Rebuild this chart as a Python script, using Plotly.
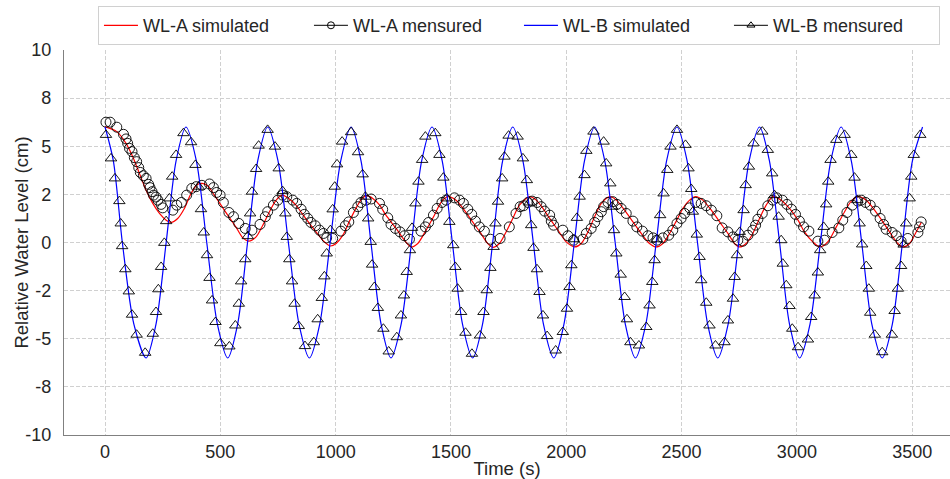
import plotly.graph_objects as go

# ---------------- data ----------------
wla_sim = [(0, 6.02), (51, 5.76), (91, 5.15), (120, 4.46), (149, 3.59), (178, 2.72), (207, 2.03),
           (236, 1.51), (265, 1.16), (286, 1.05), (315, 1.25), (344, 1.77), (373, 2.55), (402, 3.02),
           (421, 3.07), (445, 2.95), (474, 2.46), (503, 1.94), (532, 1.42), (568, 0.80), (597, 0.25),
           (623, 0.07), (655, 0.29), (684, 0.90), (713, 1.60), (742, 2.20), (768, 2.46), (792, 2.32),
           (828, 1.94), (857, 1.46), (886, 0.99), (915, 0.55), (944, 0.12), (976, -0.18), (1002, -0.05),
           (1031, 0.38), (1060, 1.11), (1089, 1.80), (1115, 2.29), (1135, 2.43), (1161, 2.29),
           (1190, 1.95), (1218, 1.42), (1262, 0.73), (1298, 0.12), (1327, -0.23), (1356, -0.05),
           (1392, 0.64), (1428, 1.42), (1457, 2.08), (1486, 2.38), (1522, 2.20), (1558, 1.68),
           (1594, 1.07), (1630, 0.47), (1659, -0.05), (1681, -0.25), (1710, -0.05), (1739, 0.55),
           (1768, 1.25), (1797, 1.94), (1841, 2.38), (1870, 2.20), (1899, 1.77), (1928, 1.25),
           (1964, 0.64), (2000, 0.03), (2036, -0.23), (2065, -0.05), (2094, 0.55), (2123, 1.34),
           (2152, 2.03), (2190, 2.38), (2217, 2.20), (2253, 1.68), (2289, 1.07), (2325, 0.47),
           (2361, -0.05), (2390, -0.23), (2419, -0.05), (2448, 0.47), (2477, 1.11), (2506, 1.77),
           (2535, 2.20), (2561, 2.38), (2592, 2.20), (2629, 1.68), (2665, 1.07), (2701, 0.47),
           (2730, -0.05), (2751, -0.23), (2780, -0.05), (2809, 0.47), (2838, 1.25), (2867, 1.94),
           (2896, 2.38), (2932, 2.20), (2968, 1.77), (3005, 1.16), (3033, 0.55), (3069, 0.03),
           (3101, -0.23), (3134, 0.03), (3171, 0.81), (3207, 1.60), (3236, 2.15), (3264, 2.38),
           (3301, 2.20), (3337, 1.68), (3373, 1.07), (3409, 0.42), (3438, -0.05), (3460, -0.23),
           (3489, -0.05), (3510, 0.38), (3540, 1.05)]

wla_meas = [(4, 6.25), (22, 6.25), (51, 5.99), (80, 5.62), (91, 5.38), (98, 5.15), (106, 4.89),
            (117, 4.72), (127, 4.41), (137, 4.20), (146, 3.89), (153, 3.64), (166, 3.47), (178, 3.33),
            (189, 3.02), (195, 2.85), (204, 2.64), (210, 2.46), (221, 2.36), (229, 2.20), (243, 1.98),
            (250, 1.80), (294, 1.68), (311, 1.94), (331, 2.08), (354, 2.46), (376, 2.81), (395, 2.90),
            (420, 2.97), (453, 3.04), (470, 2.85), (484, 2.60), (499, 2.46), (513, 2.08), (537, 1.56),
            (557, 1.34), (580, 0.99), (608, 0.73), (637, 0.64), (672, 0.94), (695, 1.34), (705, 1.60),
            (730, 1.94), (749, 2.20), (770, 2.46), (788, 2.38), (814, 2.20), (831, 2.03), (850, 1.73),
            (864, 1.46), (879, 1.25), (893, 1.04), (912, 0.87), (930, 0.64), (947, 0.47), (961, 0.24),
            (987, 0.21), (1023, 0.59), (1042, 0.87), (1057, 1.07), (1077, 1.56), (1096, 1.86),
            (1110, 2.08), (1132, 2.20), (1154, 2.26), (1190, 2.03), (1204, 1.72), (1226, 1.28),
            (1240, 0.94), (1259, 0.73), (1279, 0.55), (1298, 0.35), (1320, 0.17), (1370, 0.59),
            (1389, 0.81), (1403, 1.04), (1424, 1.42), (1440, 1.77), (1461, 2.08), (1479, 2.20),
            (1515, 2.32), (1537, 2.20), (1554, 2.03), (1573, 1.73), (1590, 1.46), (1606, 1.11),
            (1623, 0.81), (1645, 0.59), (1671, 0.17), (1713, 0.21), (1753, 0.81), (1782, 1.51),
            (1800, 1.86), (1815, 1.91), (1834, 2.08), (1852, 2.15), (1873, 2.08), (1891, 1.86),
            (1906, 1.63), (1928, 1.42), (1935, 1.11), (1945, 0.90), (1985, 0.64), (2007, 0.35),
            (2032, 0.12), (2072, 0.17), (2087, 0.47), (2108, 0.73), (2123, 1.04), (2137, 1.34),
            (2152, 1.60), (2162, 1.86), (2181, 2.08), (2202, 2.12), (2220, 1.98), (2238, 1.77),
            (2260, 1.51), (2289, 1.11), (2306, 0.81), (2330, 0.59), (2354, 0.35), (2376, 0.24),
            (2393, 0.12), (2419, 0.24), (2444, 0.38), (2462, 0.64), (2480, 0.99), (2498, 1.25),
            (2513, 1.51), (2535, 1.80), (2561, 2.08), (2585, 2.03), (2607, 1.91), (2629, 1.68),
            (2653, 1.39), (2676, 0.76), (2701, 0.55), (2723, 0.29), (2744, 0.12), (2766, 0.07),
            (2788, 0.38), (2809, 0.64), (2821, 0.90), (2831, 1.21), (2850, 1.51), (2874, 1.91),
            (2896, 2.20), (2913, 2.32), (2937, 2.20), (2957, 1.98), (2976, 1.73), (2994, 1.46),
            (3011, 1.11), (3029, 0.81), (3052, 0.59), (3091, 0.07), (3120, 0.12), (3153, 0.52),
            (3182, 0.76), (3199, 1.16), (3217, 1.56), (3240, 1.94), (3264, 2.15), (3279, 2.20),
            (3298, 2.08), (3318, 1.94), (3341, 1.63), (3361, 1.25), (3376, 0.94), (3387, 0.69),
            (3413, 0.52), (3431, 0.35), (3452, 0.07), (3481, 0.21), (3525, 0.52), (3532, 0.81),
            (3539, 1.07)]

wlb_sim = [(0, 6.0), (36, 4.24), (75, 0.0), (125, -4.24), (178, -6.0), (221, -4.24), (265, 0.0),
           (308, 4.24), (351, 6.0), (396, 4.24), (441, 0.0), (487, -4.24), (532, -6.0), (575, -4.24),
           (618, 0.0), (662, 4.24), (705, 6.0), (750, 4.24), (795, 0.0), (841, -4.24), (886, -6.0),
           (931, -4.24), (976, 0.0), (1022, 4.24), (1067, 6.0), (1110, 4.24), (1153, 0.0),
           (1197, -4.24), (1240, -6.0), (1284, -4.24), (1329, 0.0), (1373, 4.24), (1418, 6.0),
           (1462, 4.24), (1506, 0.0), (1550, -4.24), (1594, -6.0), (1637, -4.24), (1681, 0.0),
           (1724, 4.24), (1768, 6.0), (1812, 4.24), (1857, 0.0), (1901, -4.24), (1946, -6.0),
           (1990, -4.24), (2035, 0.0), (2079, 4.24), (2123, 6.0), (2167, 4.24), (2212, 0.0),
           (2256, -4.24), (2300, -6.0), (2345, -4.24), (2390, 0.0), (2435, 4.24), (2480, 6.0),
           (2524, 4.24), (2569, 0.0), (2613, -4.24), (2657, -6.0), (2702, -4.24), (2748, 0.0),
           (2793, 4.24), (2838, 6.0), (2881, 4.24), (2925, 0.0), (2968, -4.24), (3012, -6.0),
           (3057, -4.24), (3102, 0.0), (3147, 4.24), (3192, 6.0), (3236, 4.24), (3281, 0.0),
           (3325, -4.24), (3370, -6.0), (3414, -4.24), (3458, 0.0), (3501, 4.24), (3545, 6.0)]

wlb_meas = [(4, 5.59), (26, 4.37), (43, 3.33), (62, 2.15), (68, 0.99), (74, -0.19), (88, -1.39),
            (103, -2.54), (117, -3.75), (137, -4.79), (174, -5.73), (207, -4.74), (221, -3.61),
            (231, -2.43), (243, -1.27), (257, -0.02), (265, 1.11), (279, 2.29), (291, 3.42), (308, 4.55),
            (340, 5.68), (373, 5.21), (392, 4.03), (406, 2.90), (416, 1.73), (428, 0.52), (442, -0.66),
            (453, -1.84), (464, -3.01), (479, -4.13), (500, -5.23), (539, -5.40), (565, -4.31),
            (580, -3.18), (590, -2.02), (608, -0.87), (619, 0.33), (629, 1.51), (637, 2.64), (655, 3.82),
            (666, 5.03), (705, 5.85), (737, 4.98), (753, 3.85), (770, 2.67), (782, 1.51), (788, 0.29),
            (799, -0.87), (811, -2.02), (822, -3.18), (840, -4.34), (867, -5.38), (905, -5.18),
            (922, -3.99), (940, -2.88), (951, -1.76), (961, -0.57), (977, 0.64), (987, 1.72), (996, 2.90),
            (1006, 4.06), (1028, 5.24), (1067, 5.73), (1097, 4.69), (1117, 3.54), (1129, 2.38),
            (1141, 1.25), (1152, 0.03), (1158, -1.15), (1168, -2.31), (1183, -3.40), (1207, -4.48),
            (1230, -5.66), (1265, -4.92), (1283, -3.79), (1296, -2.75), (1308, -1.53), (1322, -0.40),
            (1331, 0.76), (1346, 2.03), (1359, 3.16), (1375, 4.29), (1389, 5.50), (1432, 5.68),
            (1450, 4.55), (1467, 3.37), (1482, 2.29), (1493, 1.07), (1510, -0.14), (1519, -1.27),
            (1529, -2.40), (1544, -3.61), (1563, -4.69), (1591, -5.78), (1626, -4.83), (1641, -3.61),
            (1655, -2.48), (1671, -1.32), (1685, -0.23), (1693, 0.99), (1704, 2.12), (1722, 3.33),
            (1732, 4.46), (1750, 5.55), (1789, 5.50), (1812, 4.37), (1829, 3.24), (1841, 2.08),
            (1848, 0.90), (1858, -0.28), (1873, -1.39), (1884, -2.57), (1899, -3.79), (1917, -4.86),
            (1954, -5.61), (1985, -4.65), (2003, -3.44), (2014, -2.31), (2022, -1.18), (2033, 0.17),
            (2046, 1.28), (2058, 2.38), (2079, 3.50), (2087, 4.76), (2118, 5.76), (2162, 5.24),
            (2173, 4.11), (2191, 3.07), (2199, 1.86), (2207, 0.64), (2217, -0.57), (2236, -1.67),
            (2253, -2.83), (2263, -3.99), (2278, -5.18), (2315, -5.35), (2347, -4.39), (2361, -3.27),
            (2373, -2.05), (2383, -0.92), (2393, 0.17), (2407, 1.42), (2422, 2.55), (2438, 3.77),
            (2452, 4.98), (2480, 5.85), (2517, 5.07), (2530, 3.85), (2542, 2.78), (2549, 1.60),
            (2566, 0.41), (2578, -0.75), (2585, -1.96), (2607, -3.13), (2621, -4.31), (2647, -5.35),
            (2686, -5.18), (2701, -4.05), (2723, -2.92), (2730, -1.79), (2740, -0.66), (2752, 0.55),
            (2769, 1.68), (2778, 2.98), (2792, 3.94), (2812, 5.15), (2850, 5.76), (2874, 4.81),
            (2893, 3.59), (2903, 2.46), (2921, 1.34), (2932, 0.12), (2939, -1.10), (2954, -2.22),
            (2968, -3.30), (2980, -4.48), (3005, -5.44), (3048, -5.04), (3062, -3.87), (3077, -2.75),
            (3091, -1.56), (3101, -0.40), (3116, 0.81), (3127, 1.98), (3136, 3.16), (3146, 4.29),
            (3171, 5.33), (3207, 5.59), (3236, 4.55), (3250, 3.37), (3262, 2.20), (3272, 0.99),
            (3283, -0.10), (3301, -1.22), (3312, -2.40), (3318, -3.65), (3338, -4.79), (3370, -5.70),
            (3412, -4.79), (3424, -3.56), (3438, -2.40), (3452, -1.22), (3463, -0.11), (3474, 0.99),
            (3489, 2.29), (3496, 3.42), (3507, 4.55), (3535, 5.59)]

x_ticks = [0, 500, 1000, 1500, 2000, 2500, 3000, 3500]
y_ticks = [-10, -7.5, -5, -2.5, 0, 2.5, 5, 7.5, 10]
y_tick_text = ["-10", "-8", "-5", "-2", "0", "2", "5", "8", "10"]

series_names = ["WL-A simulated", "WL-A mensured", "WL-B simulated", "WL-B mensured"]
x_title = "Time (s)"
y_title = "Relative Water Level (cm)"


def unzip(pairs):
    return [p[0] for p in pairs], [p[1] for p in pairs]


FONT = "Liberation Sans, Arial, sans-serif"
TXT = "#262626"
GRID_DASH = "4px,2px"

fig = go.Figure()

x, y = unzip(wla_sim)
fig.add_trace(go.Scatter(x=x, y=y, mode="lines", name=series_names[0], legendrank=1,
                         line=dict(color="red", width=1.2, shape="spline", smoothing=0.8)))
x, y = unzip(wla_meas)
fig.add_trace(go.Scatter(x=x, y=y, mode="markers", showlegend=False,
                         marker=dict(symbol="circle-open", size=10, color="#000000",
                                     line=dict(width=0.9, color="#000000"))))
x, y = unzip(wlb_sim)
fig.add_trace(go.Scatter(x=x, y=y, mode="lines", name=series_names[2], legendrank=3,
                         line=dict(color="blue", width=1.2, shape="spline", smoothing=0.8)))
x, y = unzip(wlb_meas)
fig.add_trace(go.Scatter(x=x, y=y, mode="markers", showlegend=False,
                         marker=dict(symbol="triangle-up-open", size=10, color="#000000",
                                     line=dict(width=0.9, color="#000000"))))

# legend-only entries for the measured series (line + marker symbol as in the reference)
fig.add_trace(go.Scatter(x=[None], y=[None], mode="lines+markers", name=series_names[1], legendrank=2,
                         line=dict(color="#000000", width=1),
                         marker=dict(symbol="circle-open", size=7, color="#000000")))
fig.add_trace(go.Scatter(x=[None], y=[None], mode="lines+markers", name=series_names[3], legendrank=4,
                         line=dict(color="#000000", width=1),
                         marker=dict(symbol="triangle-up-open", size=7, color="#000000")))

fig.update_layout(
    width=950, height=479,
    margin=dict(l=64, r=0, t=50, b=44),
    paper_bgcolor="white", plot_bgcolor="white",
    font=dict(family=FONT, size=18, color=TXT),
    showlegend=True,
    legend=dict(orientation="h", x=0.5135, xanchor="center", y=1.114, yanchor="top",
                bordercolor="#d0d0d0", borderwidth=1, bgcolor="white",
                font=dict(family=FONT, size=18, color=TXT),
                traceorder="normal", itemwidth=34, entrywidth=161, entrywidthmode="pixels"),
    annotations=[dict(text=y_title, xref="paper", yref="paper", x=-0.0485, y=0.5,
                      xanchor="center", yanchor="middle", textangle=-90, showarrow=False,
                      font=dict(family=FONT, size=18.5, color=TXT))],
)

fig.update_xaxes(
    range=[-178, 3664], tickvals=x_ticks, ticktext=[str(v) for v in x_ticks],
    showgrid=True, gridcolor="#d0d0d0", griddash=GRID_DASH, gridwidth=0.8,
    zeroline=False, showline=True, linecolor="#808080", linewidth=1.2,
    ticks="", ticklabelstandoff=0,
    tickfont=dict(family=FONT, size=18, color=TXT),
    title=dict(text=x_title, font=dict(family=FONT, size=18.5, color=TXT), standoff=2),
    automargin=False,
)
fig.update_yaxes(
    range=[-10, 10], tickvals=y_ticks, ticktext=y_tick_text,
    showgrid=True, gridcolor="#d0d0d0", griddash=GRID_DASH, gridwidth=0.8,
    zeroline=False, showline=True, linecolor="#808080", linewidth=1.2,
    ticks="", ticklabelstandoff=8,
    tickfont=dict(family=FONT, size=18, color=TXT),
    automargin=False,
)

fig.write_html("out.html")
